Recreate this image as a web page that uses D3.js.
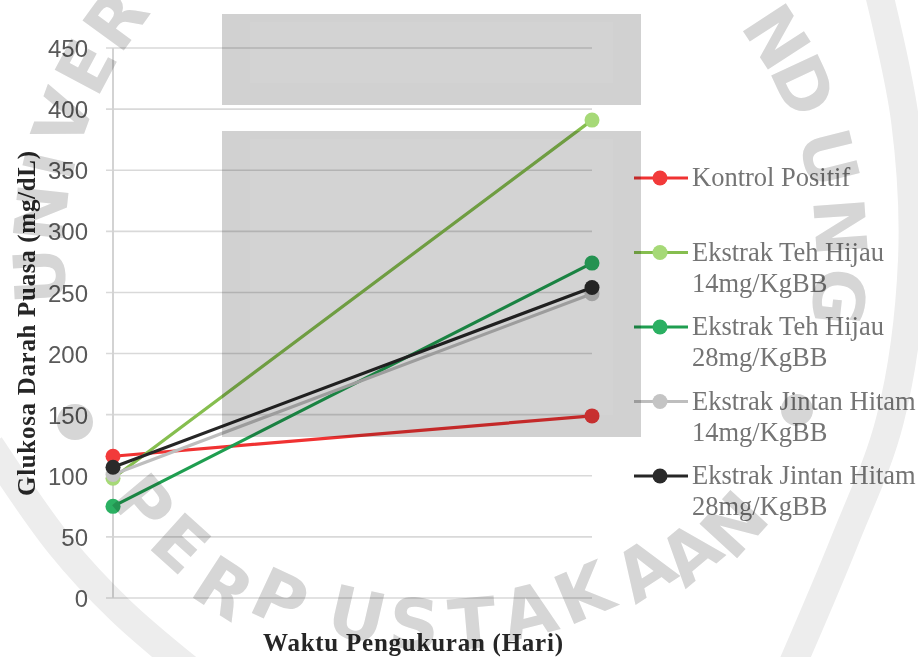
<!DOCTYPE html>
<html><head><meta charset="utf-8">
<script src="https://cdn.jsdelivr.net/npm/d3@7/dist/d3.min.js"></script>
<style>
html,body{margin:0;padding:0;background:#fff;}
svg{display:block;}
</style></head>
<body>
<svg id="chart" width="918" height="657"></svg>
<script>
// ---- data ----
const categories = ["Hari ke-0", "Hari ke-14"];
const seriesNames = ["Kontrol Positif", "Ekstrak Teh Hijau 14mg/KgBB", "Ekstrak Teh Hijau 28mg/KgBB", "Ekstrak Jintan Hitam 14mg/KgBB", "Ekstrak Jintan Hitam 28mg/KgBB"];
const legendLines = [["Kontrol Positif"], ["Ekstrak Teh Hijau", "14mg/KgBB"], ["Ekstrak Teh Hijau", "28mg/KgBB"], ["Ekstrak Jintan Hitam", "14mg/KgBB"], ["Ekstrak Jintan Hitam", "28mg/KgBB"]];
const kontrolPositif = [116, 149];
const tehHijau14 = [98, 391];
const tehHijau28 = [75, 274];
const jintanHitam14 = [101, 249];
const jintanHitam28 = [107, 254];
const yTicks = [0, 50, 100, 150, 200, 250, 300, 350, 400, 450];
const yTitle = "Glukosa Darah Puasa (mg/dL)";
const xTitle = "Waktu Pengukuran (Hari)";

// watermark text (decoration)
const wmTop = [["U",177],["N",186],["I",193],["V",200],["E",208],["R",216],["N",-33],["D",-25],["U",-14],["N",-4],["G",6]];
const wmBottom = [["P",140,388],["E",132,389],["R",123,398],["P",115,380],["U",103,370],["S",94,371],["T",85,371],["A",76,368],["K",67,368],["A",57,376],["A",50,390],["N",42.5,400]];

// ---- styles ----
const colors = {
  line: ["#F03232", "#86BE4F", "#1F9E50", "#BEBEBE", "#262626"],
  marker: ["#F23A3A", "#A6D977", "#2BB062", "#C4C4C4", "#2a2a2a"]
};
const seriesValues = [kontrolPositif, tehHijau14, tehHijau28, jintanHitam14, jintanHitam28];

const svg = d3.select("#chart");
const x = d3.scalePoint().domain(categories).range([113, 592]);
const y = d3.scaleLinear().domain([0, 450]).range([598, 48]);

// gridlines
const g = svg.append("g");
g.selectAll("line.grid").data(yTicks).join("line")
  .attr("x1", 106).attr("x2", 592)
  .attr("y1", d => y(d)).attr("y2", d => y(d))
  .attr("stroke", "#d9d9d9").attr("stroke-width", 1.6);
// y axis line
g.append("line").attr("x1", 113).attr("x2", 113).attr("y1", y(450)).attr("y2", y(0))
  .attr("stroke", "#d3d3d3").attr("stroke-width", 2);
// tick labels
const yAxis = d3.axisLeft(y).tickValues(yTicks).tickSize(0).tickPadding(0);
const ax = svg.append("g").attr("transform", "translate(88,0)").call(yAxis);
ax.select(".domain").remove();
ax.selectAll("text").attr("font-family", "'Liberation Sans', Arial, sans-serif")
  .attr("font-size", 24).attr("fill", "#595959").attr("dy", "0.36em");

// series lines
const line = d3.line().x((d, i) => x(categories[i])).y(d => y(d));
seriesValues.forEach((vals, s) => {
  const sg = svg.append("g");
  sg.append("path").datum(vals).attr("d", line).attr("fill", "none")
    .attr("stroke", colors.line[s]).attr("stroke-width", 3.2).attr("stroke-linecap", "round");
  sg.selectAll("circle").data(vals).join("circle")
    .attr("cx", (d, i) => x(categories[i])).attr("cy", d => y(d)).attr("r", 7.5)
    .attr("fill", colors.marker[s]);
});

// legend
const lg = svg.append("g");
legendLines.forEach((lines, s) => {
  const yy = 178 + s * 74.5;
  lg.append("line").attr("x1", 634).attr("x2", 688).attr("y1", yy).attr("y2", yy)
    .attr("stroke", colors.line[s]).attr("stroke-width", 3.2);
  lg.append("circle").attr("cx", 660).attr("cy", yy).attr("r", 7.5).attr("fill", colors.marker[s]);
  const t = lg.append("text").attr("x", 692).attr("y", yy + 8)
    .attr("font-family", "'Liberation Serif', 'Times New Roman', serif")
    .attr("font-size", 26.5).attr("fill", "#747474");
  lines.forEach((ln, k) => t.append("tspan").attr("x", 692).attr("dy", k === 0 ? 0 : 31).text(ln));
});

// axis titles
svg.append("text").attr("transform", "translate(35,323.5) rotate(-90)")
  .attr("text-anchor", "middle").attr("font-family", "'Liberation Serif', 'Times New Roman', serif")
  .attr("font-weight", "bold").attr("font-size", 25).attr("fill", "#262626")
  .attr("textLength", 345).attr("lengthAdjust", "spacing").text(yTitle);
svg.append("text").attr("x", 413).attr("y", 651)
  .attr("text-anchor", "middle").attr("font-family", "'Liberation Serif', 'Times New Roman', serif")
  .attr("font-weight", "bold").attr("font-size", 25).attr("fill", "#262626")
  .attr("textLength", 300).attr("lengthAdjust", "spacing").text(xTitle);

// ---- watermark overlay (multiply) ----
const wm = svg.append("g").style("mix-blend-mode", "multiply");
const cx = 440, cy = 255;
// arcs
const arcL = d3.line().curve(d3.curveCatmullRom)([[-10, 445], [60, 545], [120, 610], [190, 670]]);
const arcR = d3.line().curve(d3.curveCatmullRom)([[878, -10], [905, 120], [912, 260], [890, 420], [845, 540], [790, 670]]);
[arcL, arcR].forEach(p => wm.append("path").attr("d", p).attr("fill", "none")
  .attr("stroke", "#ededed").attr("stroke-width", 28));
// boxes
[[222, 14, 419, 91], [222, 131, 419, 306]].forEach(b => {
  wm.append("rect").attr("x", b[0]).attr("y", b[1]).attr("width", b[2]).attr("height", b[3]).attr("fill", "#d1d1d1");
  wm.append("rect").attr("x", b[0] + 28).attr("y", b[1] + 8).attr("width", b[2] - 56).attr("height", b[3] - 30).attr("fill", "#d3d3d3");
});
// dots
wm.append("circle").attr("cx", 75).attr("cy", 422).attr("r", 18).attr("fill", "#d6d6d6");
wm.append("circle").attr("cx", 797).attr("cy", 410).attr("r", 16).attr("fill", "#d6d6d6");
// letters
const letterStyle = t => t.attr("font-family", "'DejaVu Sans', sans-serif").attr("font-size", 70)
  .attr("font-weight", "bold").attr("fill", "#d6d6d6").attr("text-anchor", "middle").attr("dominant-baseline", "central");
wmTop.forEach(([ch, a]) => {
  const r = 400, rad = a * Math.PI / 180;
  letterStyle(wm.append("text")).attr("transform", `translate(${cx + r * Math.cos(rad)},${cy + r * Math.sin(rad)}) rotate(${a + 90})`).text(ch);
});
wmBottom.forEach(([ch, a, r]) => {
  const rad = a * Math.PI / 180;
  letterStyle(wm.append("text")).attr("transform", `translate(${cx + r * Math.cos(rad)},${cy + r * Math.sin(rad)}) rotate(${a - 90})`).text(ch);
});
</script>
</body></html>
